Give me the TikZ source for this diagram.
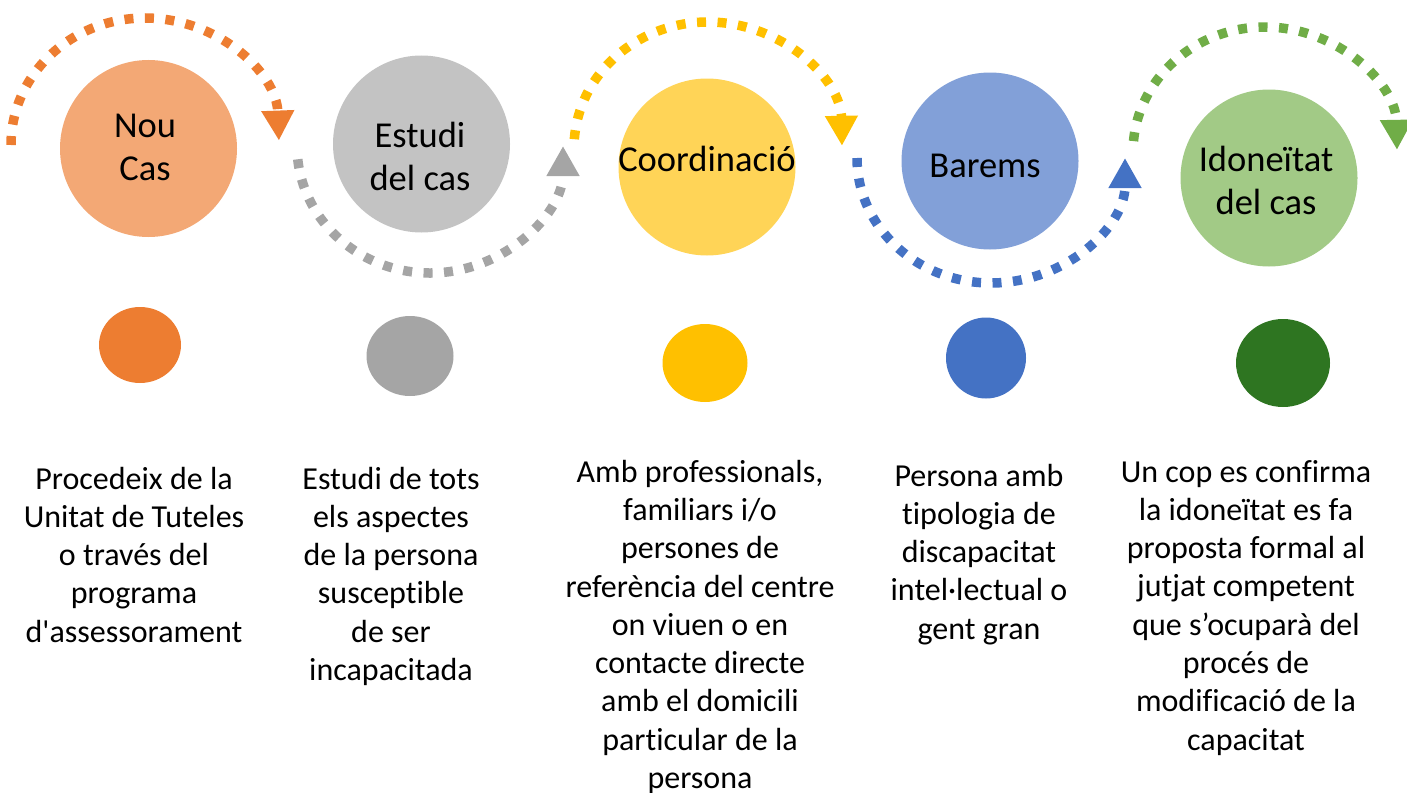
\documentclass[tikz,border=0pt]{standalone}
\usepackage{fontspec}
\setmainfont{Carlito}[Ligatures=NoCommon]
\usetikzlibrary{arrows.meta,shapes.geometric}
\definecolor{orA}{HTML}{ED7D31}
\definecolor{orL}{HTML}{F3A875}
\definecolor{grA}{HTML}{A5A5A5}
\definecolor{grL}{HTML}{C3C3C3}
\definecolor{yeA}{HTML}{FFC000}
\definecolor{yeL}{HTML}{FFD457}
\definecolor{blA}{HTML}{4472C4}
\definecolor{blL}{HTML}{82A0D8}
\definecolor{gnA}{HTML}{70AD47}
\definecolor{gnL}{HTML}{A2CA86}
\definecolor{gnD}{HTML}{2E7521}
\begin{document}
\begin{tikzpicture}[x=1pt,y=-1pt,
  bigc/.style={circle,minimum size=177pt,inner sep=0pt},
  smallc/.style={ellipse,inner sep=0pt},
  bigt/.style={font=\fontsize{36.5}{43}\selectfont,align=center,anchor=base,inner sep=0pt},
  desc/.style={font=\fontsize{32}{38.3}\selectfont,align=center,anchor=base,inner sep=0pt},
  flow/.style={line width=9.5pt,dash pattern=on 9pt off 11.5pt,line cap=butt,
    -{Triangle[width=31pt,length=30pt]}}]
\useasboundingbox (0,0) rectangle (1407,792);

% dotted arcs
\draw[flow,orA] ([shift={(180:134pt and 127pt)}]145,145) arc[start angle=180,end angle=2,x radius=134pt,y radius=127pt];
\draw[flow,grA] ([shift={(186:133pt and 127pt)}]430,146) arc[start angle=186,end angle=360,x radius=133pt,y radius=127pt];
\draw[flow,yeA] ([shift={(176:134pt and 126pt)}]708,148) arc[start angle=176,end angle=1,x radius=134pt,y radius=126pt];
\draw[flow,blA] ([shift={(180:134pt and 125pt)}]991,158) arc[start angle=180,end angle=360,x radius=134pt,y radius=125pt];
\draw[flow,gnA] ([shift={(175:132pt and 125pt)}]1265,152) arc[start angle=175,end angle=1,x radius=132pt,y radius=125pt];

% big circles
\node[bigc,fill=orL] (c1) at (148.5,148.5) {};
\node[bigc,fill=grL] (c2) at (421.5,144) {};
\node[bigc,fill=yeL] (c3) at (707,167) {};
\node[bigc,fill=blL] (c4) at (990,161) {};
\node[bigc,fill=gnL] (c5) at (1269,178) {};

\node[bigt] (t1) at (145,180) {Nou\\Cas};
\node[bigt] (t2) at (420,190) {Estudi\\del cas};
\node[bigt] (t3) at (707,171) {Coordinació};
\node[bigt] (t4) at (985,177) {Barems};
\node[bigt] (t5) at (1266,214) {Idoneïtat\\del cas};

% small circles
\node[smallc,fill=orA,minimum width=82pt,minimum height=76pt] (s1) at (140,345) {};
\node[smallc,fill=grA,minimum width=87pt,minimum height=80pt] (s2) at (410,356) {};
\node[smallc,fill=yeA,minimum width=85pt,minimum height=78pt] (s3) at (705,363) {};
\node[smallc,fill=blA,minimum width=80pt,minimum height=81pt] (s4) at (986,358) {};
\node[smallc,fill=gnD,minimum width=94pt,minimum height=88pt] (s5) at (1283,363) {};

% descriptions (anchor base = last line's baseline)
\node[desc] (d1) at (134,642.2) {Procedeix de la\\Unitat de Tuteles\\o través del\\programa\\d\textquotesingle assessorament};
\node[desc] (d2) at (391,680.5) {Estudi de tots\\els aspectes\\de la persona\\susceptible\\de ser\\incapacitada};
\node[desc] (d3) at (700,788.5) {Amb professionals,\\familiars i/o\\persones de\\referència del centre\\on viuen o en\\contacte directe\\amb el domicili\\particular de la\\persona};
\node[desc] (d4) at (979,639.2) {Persona amb\\tipologia de\\discapacitat\\intel·lectual o\\gent gran};
\node[desc] (d5) at (1246,750.1) {Un cop es confirma\\la idoneïtat es fa\\proposta formal al\\jutjat competent\\que s’ocuparà del\\procés de\\modificació de la\\capacitat};
\end{tikzpicture}
\end{document}
